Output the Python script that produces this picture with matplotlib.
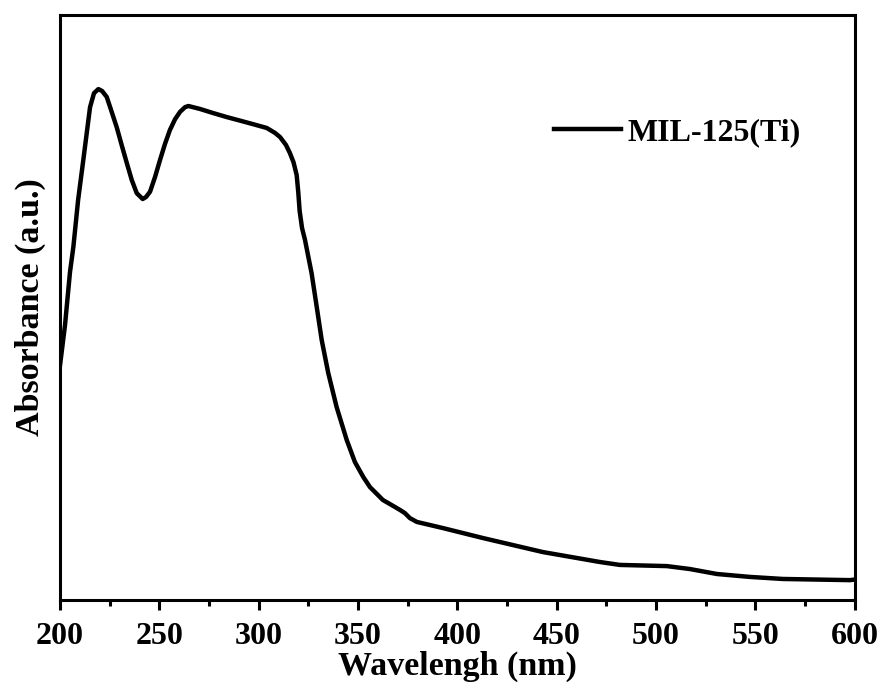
import matplotlib
matplotlib.use("Agg")
import matplotlib.pyplot as plt
from matplotlib.ticker import MultipleLocator

plt.rcParams["font.family"] = ["Liberation Serif", "DejaVu Serif"]
plt.rcParams["font.weight"] = "bold"

# UV-vis spectrum of MIL-125(Ti)
wavelength = [200.0, 202.5, 205.0, 206.7, 209.1, 211.7, 215.1, 217.1, 219.3, 221.2,
              223.5, 225.7, 228.5, 231.0, 233.6, 236.1, 238.6, 241.6, 243.3, 245.3,
              247.8, 250.3, 252.8, 255.3, 257.9, 260.4, 262.9, 264.6, 270.4, 277.0,
              284.0, 290.6, 297.1, 304.0, 308.2, 310.7, 313.7, 315.7, 317.5, 319.1,
              319.9, 320.6, 321.8, 323.3, 324.9, 326.6, 329.2, 331.7, 335.0, 339.2,
              344.3, 348.4, 352.6, 356.0, 362.5, 368.6, 371.1, 373.6, 376.1, 379.6,
              392.7, 412.8, 443.0, 471.7, 481.8, 505.4, 517.0, 530.6, 547.2, 563.8,
              597.5, 600.0]
absorbance = [0.803, 0.940, 1.121, 1.207, 1.368, 1.504, 1.685, 1.733, 1.747, 1.740,
              1.720, 1.675, 1.617, 1.556, 1.494, 1.436, 1.391, 1.371, 1.378, 1.396,
              1.446, 1.504, 1.559, 1.607, 1.644, 1.669, 1.685, 1.689, 1.679, 1.665,
              1.651, 1.639, 1.627, 1.614, 1.597, 1.583, 1.556, 1.528, 1.497, 1.453,
              1.395, 1.330, 1.272, 1.231, 1.176, 1.118, 1.002, 0.889, 0.776, 0.660,
              0.547, 0.472, 0.421, 0.386, 0.342, 0.318, 0.308, 0.297, 0.280, 0.267,
              0.246, 0.212, 0.164, 0.130, 0.120, 0.116, 0.106, 0.089, 0.079, 0.072,
              0.068, 0.070]

fig = plt.figure(figsize=(8.83, 6.9), dpi=100)
ax = fig.add_axes([0.068, 0.1304, 0.9, 0.8478])

ax.plot(wavelength, absorbance, color="black", lw=3.2, label="MIL-125(Ti)")

ax.set_xlim(200, 600)
ax.set_ylim(0, 2.0)
ax.xaxis.set_major_locator(MultipleLocator(50))
ax.xaxis.set_minor_locator(MultipleLocator(25))
ax.tick_params(axis="x", which="major", direction="out", length=7, width=2.2,
               labelsize=23, pad=9)
ax.tick_params(axis="x", which="minor", direction="out", length=4, width=2.2)
ax.set_yticks([])
for s in ax.spines.values():
    s.set_linewidth(2.2)

ax.set_xlabel("Wavelengh (nm)", fontsize=24.5, fontweight="bold", labelpad=0)
ax.set_ylabel("Absorbance (a.u.)", fontsize=24.5, fontweight="bold", labelpad=10)

ax.legend(loc="upper left", bbox_to_anchor=(0.585, 0.873), frameon=False,
          fontsize=23, handlelength=2.1, handletextpad=0.2)

fig.savefig("out.png", dpi=100)
